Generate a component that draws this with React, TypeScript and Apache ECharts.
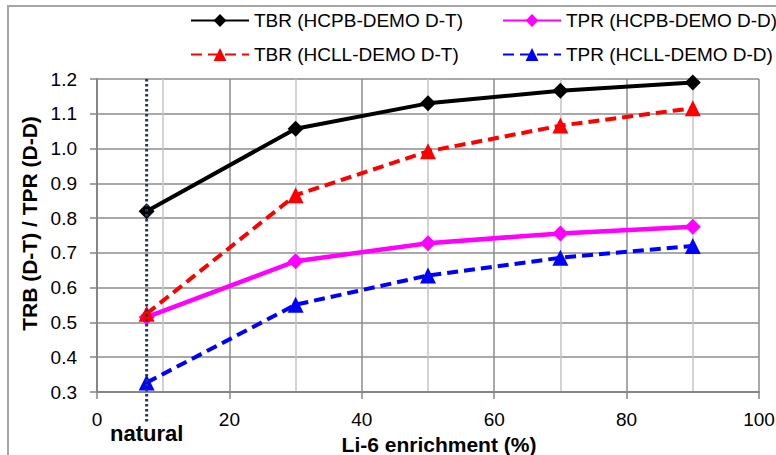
import React, { useEffect, useRef } from "react";
import * as echarts from "echarts";

const enrichment = [7.5, 30, 50, 70, 90];
const tbrHcpb = [0.82, 1.057, 1.13, 1.166, 1.19];
const tprHcpb = [0.515, 0.676, 0.728, 0.756, 0.775];
const tbrHcll = [0.525, 0.866, 0.992, 1.066, 1.116];
const tprHcll = [0.327, 0.551, 0.635, 0.686, 0.72];
const naturalX = [7.5];
const seriesNames = [
  "TBR (HCPB-DEMO D-T)",
  "TPR (HCPB-DEMO D-D)",
  "TBR (HCLL-DEMO D-T)",
  "TPR (HCLL-DEMO D-D)",
];

const FONT = "'Liberation Sans', 'Noto Sans', sans-serif";

function pairs(ys: number[]) {
  return enrichment.map((x, i) => [x, ys[i]]);
}

export default function App() {
  const ref = useRef<HTMLDivElement>(null);
  useEffect(() => {
    if (!ref.current) return;
    const chart = echarts.init(ref.current, undefined, { renderer: "svg" });
    const legendText = { fontFamily: FONT, fontSize: 19, color: "#000" };
    const mkLegend = (name: string, left: number, top: number) => ({
      data: [name],
      left,
      top,
      padding: 0,
      itemWidth: 58,
      itemHeight: 16,
      itemGap: 4,
      textStyle: legendText,
      selectedMode: false,
    });
    chart.setOption({
      animation: false,
      backgroundColor: "#fff",
      graphic: [
        {
          type: "rect",
          shape: { x: 8, y: 6, width: 820, height: 500 },
          style: { fill: "none", stroke: "#a6a6a6", lineWidth: 2 },
          silent: true,
        },
      ],
      legend: [
        mkLegend(seriesNames[0], 190, 11),
        mkLegend(seriesNames[1], 502, 11),
        mkLegend(seriesNames[2], 190, 45),
        mkLegend(seriesNames[3], 502, 45),
      ],
      grid: {
        left: 97,
        right: 17,
        top: 79,
        bottom: 63,
        containLabel: false,
        outerBoundsMode: "none",
      },
      xAxis: {
        type: "value",
        min: 0,
        max: 100,
        interval: 20,
        name: "Li-6 enrichment (%)",
        nameLocation: "middle",
        nameGap: 31,
        nameTextStyle: {
          fontFamily: FONT,
          fontSize: 21,
          fontWeight: "bold",
          color: "#000",
          padding: [0, 0, 0, 22],
          lineHeight: 22,
        },
        axisLine: { show: true, lineStyle: { color: "#868686", width: 2 } },
        axisTick: { show: true, length: 7, lineStyle: { color: "#868686", width: 1.5 } },
        axisLabel: { fontFamily: FONT, fontSize: 19, color: "#000", margin: 18 },
        splitLine: { show: true, lineStyle: { color: "#8c8c8c", width: 1.5 } },
        minorTick: { show: false, splitNumber: 2 },
        minorSplitLine: { show: true, lineStyle: { color: "#c4c4c4", width: 1.5 } },
      },
      yAxis: {
        type: "value",
        min: 0.3,
        max: 1.2,
        interval: 0.1,
        name: "TRB (D-T) / TPR (D-D)",
        nameLocation: "middle",
        nameGap: 55,
        nameTextStyle: {
          fontFamily: FONT,
          fontSize: 21,
          fontWeight: "bold",
          color: "#000",
          padding: [0, 0, 0, 24],
        },
        axisLine: { show: true, lineStyle: { color: "#868686", width: 2 } },
        axisTick: { show: true, length: 7, lineStyle: { color: "#868686", width: 1.5 } },
        axisLabel: {
          fontFamily: FONT,
          fontSize: 19,
          color: "#000",
          margin: 20,
          formatter: (v: number) => v.toFixed(1),
        },
        splitLine: { show: true, lineStyle: { color: "#8c8c8c", width: 1.5 } },
      },
      series: [
        {
          name: seriesNames[0],
          type: "line",
          data: pairs(tbrHcpb),
          symbol: "diamond",
          symbolSize: 16,
          itemStyle: { color: "#000" },
          lineStyle: { color: "#000", width: 4 },
          z: 3,
        },
        {
          name: seriesNames[1],
          type: "line",
          data: pairs(tprHcpb),
          symbol: "diamond",
          symbolSize: 16,
          itemStyle: { color: "#ff00ff" },
          lineStyle: { color: "#ff00ff", width: 4.5 },
          z: 3,
        },
        {
          name: seriesNames[2],
          type: "line",
          data: pairs(tbrHcll),
          symbol: "triangle",
          symbolSize: 16,
          itemStyle: { color: "#ff0000" },
          lineStyle: { color: "#ff0000", width: 4, type: [11, 6] },
          z: 4,
        },
        {
          name: seriesNames[3],
          type: "line",
          data: pairs(tprHcll),
          symbol: "triangle",
          symbolSize: 16,
          itemStyle: { color: "#0000ff" },
          lineStyle: { color: "#0000ff", width: 4, type: [11, 6] },
          z: 4,
        },
        {
          type: "custom",
          name: "natural",
          data: naturalX.map((x) => [x]),
          clip: false,
          z: 10,
          silent: true,
          renderItem: (_params: any, api: any) => {
            const x = api.value(0);
            const top = api.coord([x, 1.2]);
            const bottom = api.coord([x, 0.3]);
            return {
              type: "group",
              children: [
                {
                  type: "line",
                  shape: { x1: top[0], y1: top[1], x2: bottom[0], y2: bottom[1] + 30 },
                  style: { stroke: "#1f3864", lineWidth: 3, lineDash: [2.5, 2.5] },
                },
                {
                  type: "text",
                  x: bottom[0],
                  y: bottom[1] + 41,
                  style: {
                    text: "natural",
                    fontFamily: FONT,
                    fontSize: 22,
                    fontWeight: "bold",
                    fill: "#000",
                    align: "center",
                    verticalAlign: "middle",
                  },
                },
              ],
            };
          },
        },
      ],
    });
    return () => chart.dispose();
  }, []);
  return (
    <div
      ref={ref}
      style={{ position: "fixed", left: 0, top: 0, width: 776, height: 455 }}
    />
  );
}
